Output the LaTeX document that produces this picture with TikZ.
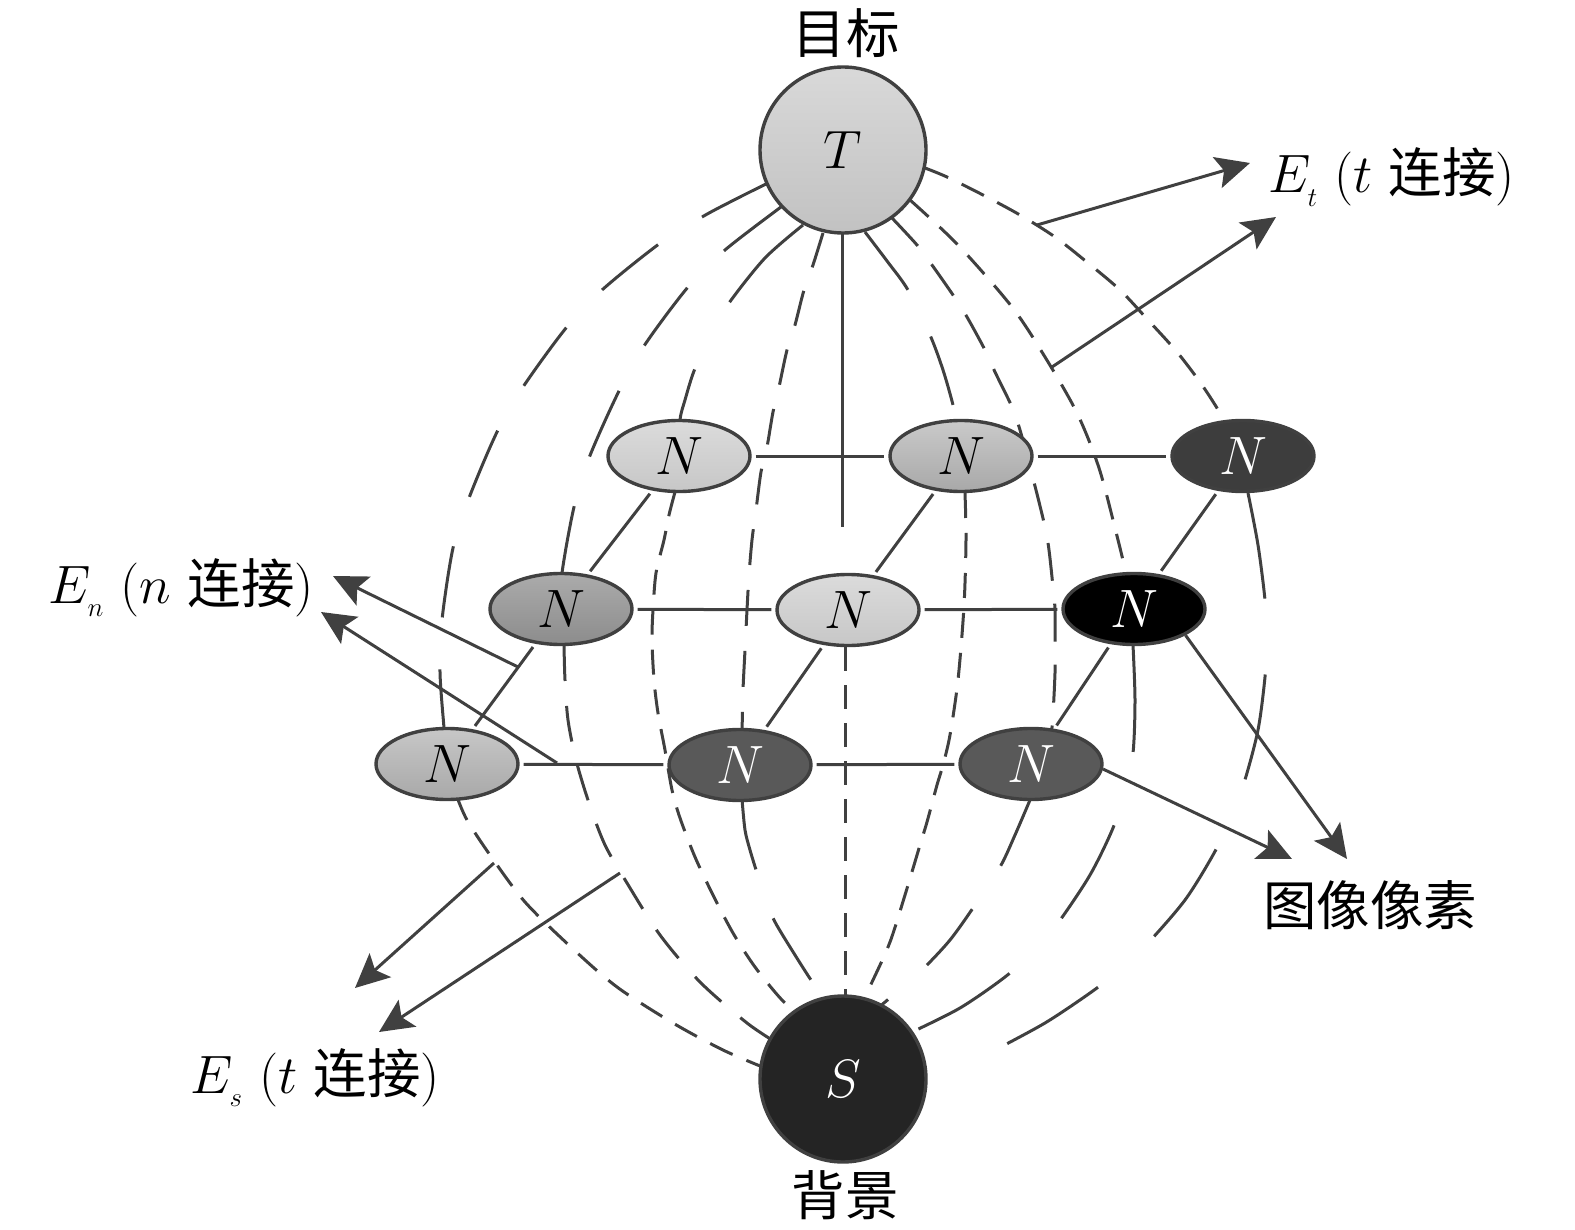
\RequirePackage{fix-cm}
\documentclass[tikz,border=0pt]{standalone}
\usepackage{fontspec}
\newfontfamily\cjk[Scale=0.99]{Noto Sans CJK SC}
\usetikzlibrary{shapes.geometric,arrows.meta}
\pgfdeclarelayer{bg}
\pgfsetlayers{bg,main}
\definecolor{lc}{HTML}{404040}
\newcommand{\lsub}[1]{\lower2.5pt\hbox{$\scriptscriptstyle #1$}}
\tikzset{
  fl/.style={line width=1.5pt, draw=lc, line cap=butt},
  dlong/.style={dash pattern=on 36pt off 26pt},
  dlongb/.style={dash pattern=on 53.5pt off 38pt},
  dmid/.style={dash pattern=on 18pt off 12.5pt},
  dmidb/.style={dash pattern=on 19pt off 11.5pt},
  dshort/.style={dash pattern=on 12.5pt off 7.5pt},
  dcent/.style={dash pattern=on 12pt off 7pt},
  nn/.style={ellipse, draw=lc, line width=1.7pt, minimum width=71pt, minimum height=35.5pt, inner sep=0pt},
  big/.style={circle, draw=lc, line width=1.7pt, minimum size=83pt, inner sep=0pt},
  cn/.style={line width=1.5pt, draw=lc, shorten <=2pt, shorten >=2pt},
  arr/.style={line width=1.5pt, draw=lc, -{Stealth[length=17pt,width=16pt,inset=3.5pt]}},
  lbl/.style={inner sep=0pt},
}
\begin{document}
\begin{tikzpicture}[x=0.5pt,y=-0.5pt,font=\fontsize{27}{32}\selectfont]
\useasboundingbox (0,0) rectangle (1575,1230);

% nodes
\node[big, top color=black!15, bottom color=black!24] (T) at (843,150) {$T$};
\node[big, fill=black!86, text=white] (S) at (843,1079) {$S$};

\node[nn, top color=black!14, bottom color=black!22] (n11) at (679,456) {$N$};
\node[nn, top color=black!21, bottom color=black!34] (n12) at (961,456) {$N$};
\node[nn, fill=black!76, text=white] (n13) at (1243,456) {$N$};
\node[nn, top color=black!33, bottom color=black!45] (n21) at (561,609) {$N$};
\node[nn, top color=black!14, bottom color=black!22] (n22) at (848,610) {$N$};
\node[nn, fill=black, text=white] (n23) at (1134,609) {$N$};
\node[nn, top color=black!22, bottom color=black!34] (n31) at (447,764) {$N$};
\node[nn, fill=black!65, text=white] (n32) at (740,765) {$N$};
\node[nn, fill=black!65, text=white] (n33) at (1031,764) {$N$};

% labels
\node[lbl] (lt) at (846,33) {\cjk 目标};
\node[lbl] (ls) at (845,1195) {\cjk 背景};
\node[lbl, anchor=base west] (let) at (1268,193) {$E_{\lsub{t}}$\ ($t$\ {\cjk 连接})};
\node[lbl, anchor=base west] (len) at (48,603) {$E_{\lsub{n}}$\ ($n$\ {\cjk 连接})};
\node[lbl, anchor=base west] (les) at (190,1093) {$E_{\lsub{s}}$\ ($t$\ {\cjk 连接})};
\node[lbl] (lpx) at (1370,905) {\cjk 图像像素};

% field lines
\begin{pgfonlayer}{bg}
% left side
\draw[fl,dlong] plot[smooth] coordinates {(766,184) (734,200) (702,217) (659,244) (602,290) (566,328) (523,387) (497,432) (469,498) (453,548) (442,620) (440,672) (444,728) (447,764)};
\draw[fl,dshort] plot[smooth] coordinates {(457,797) (467,820) (490,855) (525,902) (572,948) (617,987) (673,1023) (723,1050) (765,1068)};
\draw[fl,dlong] plot[smooth] coordinates {(781,207) (725,250) (688,287) (644,346) (618,393) (589,458) (574,507) (562,573) (561,609)};
\draw[fl,dmid] plot[smooth] coordinates {(564,645) (565,680) (568,720) (576,760) (589,803) (605,845) (627,883) (660,935) (700,982) (747,1023) (780,1045)};
\draw[fl,dlongb] plot[smooth] coordinates {(803,225) (765,258) (729,303) (710,335) (694,371) (685,400) (680,420) (679,456)};
\draw[fl,dshort] plot[smooth] coordinates {(675,492) (669,515) (664,540) (656,573) (653,610) (652,640) (654,680) (658,713) (665,750) (672,790) (680,818) (695,857) (713,895) (733,933) (755,967) (782,1000) (800,1014)};
\draw[fl,dmid] plot[smooth] coordinates {(823,233) (813,265) (804,290) (795,325) (787,350) (779,387) (773,412) (767,447) (761,472) (756,510) (752,540) (749,575) (747,610) (745,650) (743,690) (742,730) (740,765)};
\draw[fl,dlong] plot[smooth] coordinates {(742,799) (745,830) (750,850) (757,873) (765,898) (775,922) (795,955) (813,983) (828,1003)};
% centre
\draw[fl] (842,233) -- (842,527);
\draw[fl,dcent] (845,647) -- (845,997);
% right side
\draw[fl,dlong] plot[smooth] coordinates {(865,232) (887,261) (908,290) (930,335) (943,370) (953,405) (958,430) (961,456)};
\draw[fl,dshort] plot[smooth] coordinates {(965,493) (966,540) (964,606) (958,680) (950,735) (943,765) (937,785) (927,822) (920,845) (905,895) (890,942) (873,980) (860,1006)};
\draw[fl,dmidb] plot[smooth] coordinates {(892,218) (917,245) (932,265) (953,295) (967,317) (985,350) (995,372) (1012,407) (1020,430) (1028,460) (1036,490) (1045,527) (1049,550) (1053,587) (1055,610) (1055,650) (1055,673) (1053,713) (1050,735) (1031,764)};
\draw[fl,dlong] plot[smooth] coordinates {(1030,800) (1015,835) (1000,867) (973,908) (950,940) (925,967) (905,985) (878,1008)};
\draw[fl,dshort] plot[smooth] coordinates {(910,200) (958,245) (1012,307) (1045,357) (1077,413) (1099,468) (1116,532) (1126,573) (1134,609)};
\draw[fl,dlongb] plot[smooth] coordinates {(1133,645) (1135,700) (1133,753) (1125,790) (1113,828) (1090,875) (1058,923) (1035,950) (1005,977) (960,1008) (912,1032)};
\draw[fl,dshort] plot[smooth] coordinates {(925,168) (947,177) (983,195) (1020,215) (1055,237) (1088,263) (1120,290) (1148,320) (1177,352) (1202,385) (1223,418) (1243,456)};
\draw[fl,dlongb] plot[smooth] coordinates {(1248,493) (1258,545) (1265,600) (1267,640) (1265,677) (1258,730) (1244,783) (1230,820) (1213,855) (1185,900) (1148,943) (1120,970) (1090,993) (1045,1023) (995,1050)};
\end{pgfonlayer}

% connectors between pixels
\draw[cn] (n11) -- (n12);
\draw[cn] (n12) -- (n13);
\draw[cn] (n21) -- (n22);
\draw[cn] (n22) -- (n23);
\draw[cn] (n31) -- (n32);
\draw[cn] (n32) -- (n33);
\draw[cn] (n21) -- (n11);
\draw[cn] (n22) -- (n12);
\draw[cn] (n23) -- (n13);
\draw[cn] (n31) -- (n21);
\draw[cn] (n32) -- (n22);
\draw[cn] (n33) -- (n23);

% arrow end points
\coordinate (et1s) at (1037,225);
\coordinate (et1e) at (1250,163);
\coordinate (et2s) at (1052,367);
\coordinate (et2e) at (1276,217);
\coordinate (en1s) at (518,667);
\coordinate (en1e) at (333,576);
\coordinate (en2s) at (557,763);
\coordinate (en2e) at (321,612);
\coordinate (es1s) at (494,863);
\coordinate (es1e) at (355,988);
\coordinate (es2s) at (620,873);
\coordinate (es2e) at (379,1032);
\coordinate (px1) at (1292,859);
\coordinate (px2) at (1347,859);

\draw[arr] (et1s) -- (et1e);
\draw[arr] (et2s) -- (et2e);
\draw[arr] (en1s) -- (en1e);
\draw[arr] (en2s) -- (en2e);
\draw[arr] (es1s) -- (es1e);
\draw[arr] (es2s) -- (es2e);
\draw[arr] (n33.-4) -- (px1);
\draw[arr] (n23.-27) -- (px2);
\end{tikzpicture}
\end{document}
